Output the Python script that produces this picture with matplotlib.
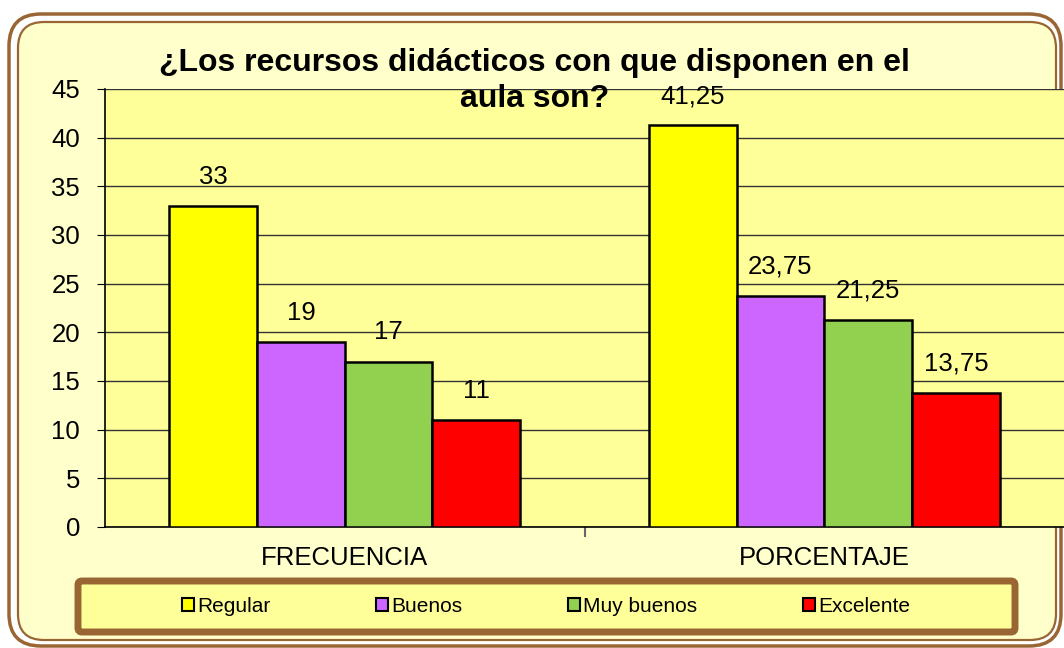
"""Gráfico de barras: recursos didácticos en el aula."""
import matplotlib.pyplot as plt
import numpy as np
from matplotlib.patches import FancyBboxPatch, Patch

plt.rcParams['font.family'] = ['Liberation Sans', 'DejaVu Sans']

categorias = ['FRECUENCIA', 'PORCENTAJE']
series = ['Regular', 'Buenos', 'Muy buenos', 'Excelente']
valores = {
    'Regular': [33, 41.25],
    'Buenos': [19, 23.75],
    'Muy buenos': [17, 21.25],
    'Excelente': [11, 13.75],
}
colores = ['#FFFF00', '#CC66FF', '#92D050', '#FF0000']
titulo = '¿Los recursos didácticos con que disponen en el\naula son?'

brown = '#996633'
W, H = 10.64, 6.48
fig = plt.figure(figsize=(W, H), dpi=100, facecolor='white')


def px_box(x0, y0, x1, y1, **kw):
    # coordenadas en píxeles (origen arriba-izquierda) -> pulgadas
    return FancyBboxPatch((x0 / 100, (648 - y1) / 100), (x1 - x0) / 100, (y1 - y0) / 100,
                          transform=fig.dpi_scale_trans, **kw)


# marco doble redondeado
fig.patches.append(px_box(9, 14, 1061, 646, boxstyle='round,pad=0,rounding_size=0.32',
                          facecolor='white', edgecolor=brown, linewidth=2.5, zorder=0))
fig.patches.append(px_box(18, 22, 1056, 640, boxstyle='round,pad=0,rounding_size=0.26',
                          facecolor='#FFFFCC', edgecolor=brown, linewidth=1.6, zorder=0))

ax = fig.add_axes([105 / 1064, 121 / 648, 959 / 1064, 438 / 648], zorder=2)
ax.set_facecolor('#FFFF99')

fs = 18.5
x = np.arange(len(categorias))
w = 0.183
for i, (s, c) in enumerate(zip(series, colores)):
    pos = x + (i - 1.5) * w
    bars = ax.bar(pos, valores[s], width=w, color=c, edgecolor='black', linewidth=1.8, zorder=3)
    for b, v in zip(bars, valores[s]):
        txt = f'{v:g}'.replace('.', ',')
        ax.annotate(txt, (b.get_x() + b.get_width() / 2, v), xytext=(0, 21),
                    textcoords='offset points', ha='center', va='center', fontsize=fs)

ax.set_xlim(-0.5, 1.5)
ax.set_ylim(0, 45)
ax.set_yticks(range(0, 46, 5))
ax.yaxis.grid(True, color='#333333', linewidth=1)
ax.set_axisbelow(True)
ax.set_xticks([0.5])
ax.set_xticklabels([])
ax.set_xticks(x, minor=True)
ax.set_xticklabels(categorias, minor=True, fontsize=fs)
ax.tick_params(axis='x', which='minor', length=0, pad=14)
ax.tick_params(axis='x', which='major', length=7, color='#666666', width=1.5)
ax.tick_params(axis='y', length=6, pad=12, labelsize=fs)
for sp in ['top', 'right']:
    ax.spines[sp].set_visible(False)
ax.spines['left'].set_linewidth(1.2)
ax.spines['bottom'].set_linewidth(1.2)

fig.text(0.502, 0.875, titulo, ha='center', va='center', fontsize=23,
         fontweight='bold', linespacing=1.3, zorder=5)

# leyenda
fig.patches.append(px_box(78, 581, 1015, 632, boxstyle='round,pad=0,rounding_size=0.04',
                          facecolor='#FFFF99', edgecolor=brown, linewidth=5, zorder=1))
handles = [Patch(facecolor=c, edgecolor='black', linewidth=1.5) for c in colores]
leg = fig.legend(handles, series, loc='center', bbox_to_anchor=(546 / 1064, 1 - 606 / 648),
                 ncol=4, frameon=False, fontsize=15, handlelength=0.6, handleheight=0.6,
                 handletextpad=0.15, columnspacing=5.05)
leg.set_zorder(6)

fig.savefig('out.png', dpi=100, facecolor=fig.get_facecolor())
